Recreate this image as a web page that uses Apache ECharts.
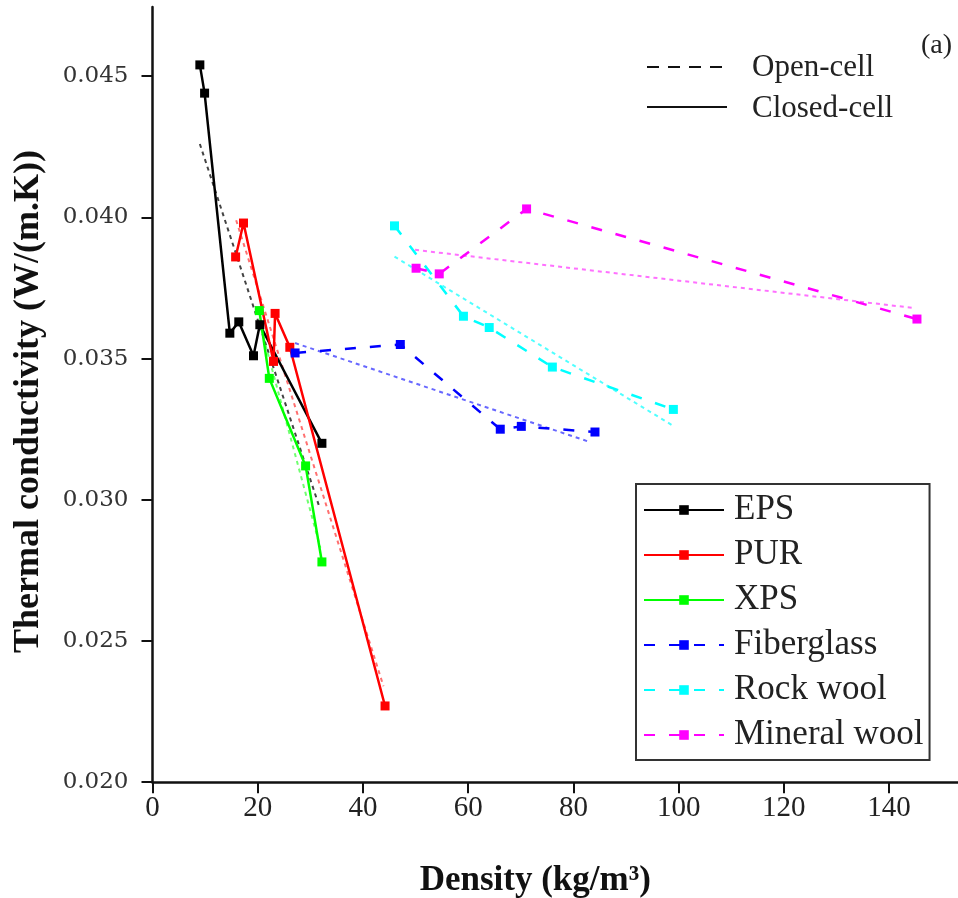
<!DOCTYPE html>
<html>
<head>
<meta charset="utf-8">
<script src="https://cdn.jsdelivr.net/npm/echarts@6/dist/echarts.min.js"></script>
<style>
html,body{margin:0;padding:0;background:#fff;}
#chart{width:958px;height:898px;}
</style>
</head>
<body>
<div id="chart"></div>
<script>
// ---- data ----
const seriesNames = ['EPS', 'PUR', 'XPS', 'Fiberglass', 'Rock wool', 'Mineral wool'];

const epsX = [9.0, 9.9, 14.7, 16.4, 19.2, 20.4, 32.2];
const epsY = [0.0454, 0.0444, 0.0359, 0.0363, 0.0351, 0.0362, 0.0320];

const purX = [15.8, 17.3, 23.0, 23.3, 26.1, 44.2];
const purY = [0.0386, 0.0398, 0.0349, 0.0366, 0.0354, 0.0227];

const xpsX = [20.3, 22.2, 29.1, 32.2];
const xpsY = [0.0367, 0.0343, 0.0312, 0.0278];

const fiberX = [27.1, 47.1, 66.1, 70.1, 84.1];
const fiberY = [0.0352, 0.0355, 0.0325, 0.0326, 0.0324];

const rockX = [46.0, 59.1, 64.0, 76.0, 99.0];
const rockY = [0.0397, 0.0365, 0.0361, 0.0347, 0.0332];

const mineralX = [50.1, 54.5, 71.1, 145.3];
const mineralY = [0.0382, 0.0380, 0.0403, 0.0364];

// fitted trend lines (end points)
const epsFitX = [9.0, 31.8];      const epsFitY = [0.0426, 0.0297];
const purFitX = [15.9, 43.9];     const purFitY = [0.0399, 0.0234];
const xpsFitX = [20.3, 31.9];     const xpsFitY = [0.0363, 0.0283];
const fiberFitX = [27.1, 82.9];   const fiberFitY = [0.03555, 0.03206];
const rockFitX = [46.0, 98.7];    const rockFitY = [0.03861, 0.03265];
const mineralFitX = [49.9, 144.3]; const mineralFitY = [0.03885, 0.03680];

const xTicks = [0, 20, 40, 60, 80, 100, 120, 140];
const yTicks = [0.020, 0.025, 0.030, 0.035, 0.040, 0.045];

// ---- build ----
const zip = (xs, ys) => xs.map((x, i) => [x, ys[i]]);
const SERIF = '"Liberation Serif", "Times New Roman", serif';
const DASH = [11, 14];

function mainSeries(name, xs, ys, color, dashed) {
  return {
    name, type: 'line', data: zip(xs, ys),
    symbol: 'rect', symbolSize: 9, showSymbol: true,
    itemStyle: { color },
    lineStyle: { color, width: 2.5, type: dashed ? DASH : 'solid' },
    z: 3, animation: false
  };
}
function fitSeries(name, xs, ys, color) {
  return {
    name, type: 'line', data: zip(xs, ys), symbol: 'none',
    lineStyle: { color, width: 2, type: [4, 4] },
    z: 2, animation: false, silent: true
  };
}

const chart = echarts.init(document.getElementById('chart'), null, { renderer: 'canvas' });

chart.setOption({
  backgroundColor: '#fff',
  animation: false,
  grid: { left: 152.5, right: 0, top: 7, bottom: 115.8, containLabel: false, outerBoundsMode: 'none' },
  xAxis: {
    type: 'value', min: 0, max: 153.1, interval: 20,
    name: 'Density (kg/m³)', nameLocation: 'middle', nameGap: 81,
    nameTextStyle: { fontFamily: SERIF, fontWeight: 'bold', fontSize: 35, color: '#111', padding: [0, 40, 0, 0] },
    axisLine: { onZero: false, lineStyle: { color: '#111', width: 2.5 } },
    axisTick: { length: 11, lineStyle: { color: '#111', width: 2 }, customValues: xTicks },
    axisLabel: { customValues: xTicks, fontFamily: SERIF, fontSize: 29, color: '#222', margin: 12 },
    splitLine: { show: false }
  },
  yAxis: {
    type: 'value', min: 0.020, max: 0.04745, interval: 0.005,
    name: 'Thermal conductivity (W/(m.K))', nameLocation: 'middle', nameGap: 106,
    nameTextStyle: { fontFamily: SERIF, fontWeight: 'bold', fontSize: 36, color: '#111', padding: [0, 14, 0, 0] },
    axisLine: { onZero: false, lineStyle: { color: '#111', width: 2.5 } },
    axisTick: { length: 11, lineStyle: { color: '#111', width: 2 }, customValues: yTicks },
    axisLabel: { customValues: yTicks, fontFamily: '"DejaVu Serif", serif', fontSize: 23, color: '#333', margin: 24,
      formatter: v => v.toFixed(3) },
    splitLine: { show: false }
  },
  legend: {
    data: seriesNames,
    orient: 'vertical', left: 636, top: 484,
    itemWidth: 80, itemHeight: 12, itemGap: 9,
    padding: [8, 6, 7, 7],
    borderColor: '#333', borderWidth: 2,
    lineStyle: { width: 2 },
    textStyle: { fontFamily: SERIF, fontSize: 35, color: '#222', lineHeight: 36, padding: [0, 0, 0, 5] }
  },
  series: [
    fitSeries('EPS fit', epsFitX, epsFitY, '#444444'),
    fitSeries('PUR fit', purFitX, purFitY, '#ff7070'),
    fitSeries('XPS fit', xpsFitX, xpsFitY, '#70ff70'),
    fitSeries('Fiberglass fit', fiberFitX, fiberFitY, '#6868ff'),
    fitSeries('Rock wool fit', rockFitX, rockFitY, '#50ffff'),
    fitSeries('Mineral wool fit', mineralFitX, mineralFitY, '#ff70ff'),
    mainSeries('EPS', epsX, epsY, '#000000', false),
    mainSeries('PUR', purX, purY, '#ff0000', false),
    mainSeries('XPS', xpsX, xpsY, '#00ff00', false),
    mainSeries('Fiberglass', fiberX, fiberY, '#0000ff', true),
    mainSeries('Rock wool', rockX, rockY, '#00ffff', true),
    mainSeries('Mineral wool', mineralX, mineralY, '#ff00ff', true)
  ],
  graphic: [
    { type: 'line', shape: { x1: 647, y1: 67, x2: 727, y2: 67 },
      style: { stroke: '#111', lineWidth: 2, lineDash: [12, 9] } },
    { type: 'text', left: 752, top: 52,
      style: { text: 'Open-cell', font: '31px ' + SERIF, fill: '#222' } },
    { type: 'line', shape: { x1: 647, y1: 107, x2: 727, y2: 107 },
      style: { stroke: '#111', lineWidth: 2 } },
    { type: 'text', left: 752, top: 93,
      style: { text: 'Closed-cell', font: '31px ' + SERIF, fill: '#222' } },
    { type: 'text', left: 921, top: 32,
      style: { text: '(a)', font: '28px ' + SERIF, fill: '#222' } }
  ]
});
</script>
</body>
</html>
